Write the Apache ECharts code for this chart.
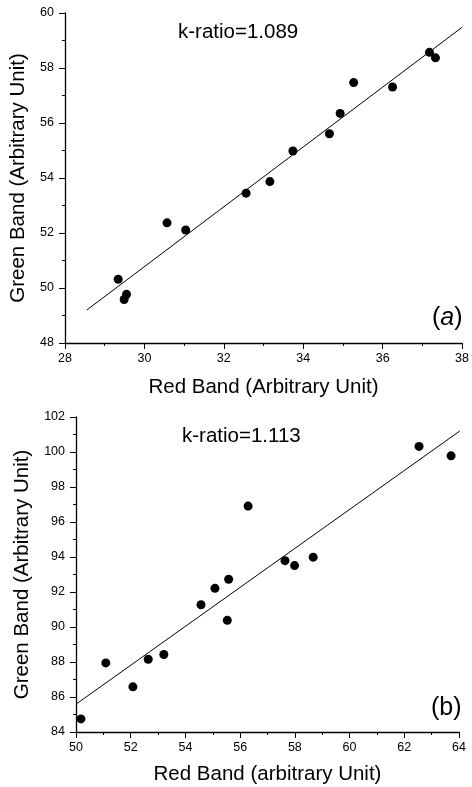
<!DOCTYPE html>
<html><head><meta charset="utf-8">
<script src="https://cdn.jsdelivr.net/npm/echarts@6/dist/echarts.min.js"></script>
<style>html,body{margin:0;padding:0;background:#fff}#c{width:472px;height:787px}</style>
</head><body><div id="c"></div>
<script>
// Panel (a)
const redA = [37.18, 37.33, 35.27, 36.25, 34.93, 34.66, 33.74, 33.16, 32.56, 30.57, 31.04, 29.34, 29.55, 29.49];
const greenA = [58.57, 58.37, 57.47, 57.31, 56.35, 55.61, 54.98, 53.87, 53.45, 52.37, 52.11, 50.32, 49.77, 49.58];
const fitA = [[28.55, 49.2], [38.0, 59.48]];
const xTicksA = [28, 30, 32, 34, 36, 38];
const yTicksA = [48, 50, 52, 54, 56, 58, 60];
const labelA = 'k-ratio=1.089';
// Panel (b)
const redB = [62.54, 63.71, 56.29, 57.64, 57.99, 58.67, 55.58, 55.08, 54.57, 55.53, 53.21, 52.64, 51.09, 52.08, 50.18];
const greenB = [100.32, 99.78, 96.91, 93.79, 93.51, 93.99, 92.73, 92.21, 91.27, 90.38, 88.43, 88.16, 87.95, 86.58, 84.75];
const fitB = [[50.0, 85.59], [64.03, 101.2]];
const xTicksB = [50, 52, 54, 56, 58, 60, 62, 64];
const yTicksB = [84, 86, 88, 90, 92, 94, 96, 98, 100, 102];
const labelB = 'k-ratio=1.113';

const FONT = 'Liberation Sans, Arial, sans-serif';
function pts(xs, ys){ return xs.map((x,i)=>[x, ys[i]]); }
function axis(ticks, name, gap, idx, margin){
  return {
    type:'value', gridIndex: idx, min: ticks[0], max: ticks[ticks.length-1], interval: ticks[1]-ticks[0],
    name: name, nameLocation:'middle', nameGap: gap,
    nameTextStyle:{fontFamily:FONT, fontSize:20.5, color:'#000'},
    axisLine:{show:true, onZero:false, lineStyle:{color:'#000', width:1.3}},
    axisTick:{show:true, inside:false, length:6, lineStyle:{color:'#000', width:1}},
    minorTick:{show:true, splitNumber:2, length:3, lineStyle:{color:'#000', width:1}},
    axisLabel:{fontFamily:FONT, fontSize:12.5, color:'#000', margin:margin},
    splitLine:{show:false}
  };
}
const chart = echarts.init(document.getElementById('c'), null, {renderer:'canvas'});
chart.setOption({
  animation:false,
  backgroundColor:'#fff',
  grid:[
    {left:65, top:13, width:401, height:330},
    {left:76, top:417, width:383, height:315}
  ],
  xAxis:[
    axis(xTicksA, 'Red Band (Arbitrary Unit)', 34, 0, 9),
    axis(xTicksB, 'Red Band (arbitrary Unit)', 32, 1, 9)
  ],
  yAxis:[
    axis(yTicksA, 'Green Band (Arbitrary Unit)', 36, 0, 11),
    axis(yTicksB, 'Green Band (Arbitrary Unit)', 41, 1, 11)
  ],
  series:[
    {type:'line', xAxisIndex:0, yAxisIndex:0, data:fitA, symbol:'none', lineStyle:{color:'#000', width:1}},
    {type:'scatter', xAxisIndex:0, yAxisIndex:0, data:pts(redA, greenA), symbol:'circle', symbolSize:9, itemStyle:{color:'#000', opacity:1}},
    {type:'line', xAxisIndex:1, yAxisIndex:1, data:fitB, symbol:'none', lineStyle:{color:'#000', width:1}},
    {type:'scatter', xAxisIndex:1, yAxisIndex:1, data:pts(redB, greenB), symbol:'circle', symbolSize:9, itemStyle:{color:'#000', opacity:1}}
  ],
  graphic:[
    {type:'text', left:178, top:22, style:{text:labelA, font:'20.5px '+FONT, fill:'#000'}},
    {type:'text', left:432, top:306, style:{text:'({a|a})', rich:{a:{fontStyle:'italic', fontSize:25, fontFamily:FONT, fill:'#000'}}, font:'25px '+FONT, fill:'#000'}},
    {type:'text', left:182, top:426, style:{text:labelB, font:'20.5px '+FONT, fill:'#000'}},
    {type:'text', left:431, top:696, style:{text:'(b)', font:'25px '+FONT, fill:'#000'}}
  ]
});
</script></body></html>
